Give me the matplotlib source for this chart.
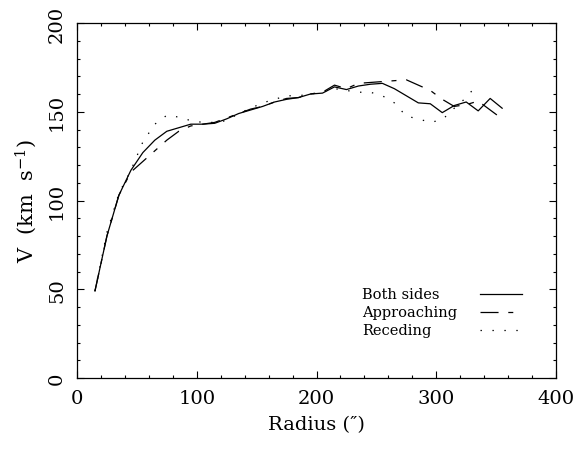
import matplotlib
matplotlib.use("Agg")
import matplotlib.pyplot as plt
from matplotlib.ticker import MultipleLocator

plt.rcParams['font.family'] = ['DejaVu Serif']
plt.rcParams['mathtext.fontset'] = 'dejavuserif'
plt.rcParams['lines.scale_dashes'] = False

# rotation curve, radius in arcsec
radius = [15, 25, 35, 45, 55, 65, 75, 85, 95, 105, 115, 125, 135, 145, 155,
          165, 175, 185, 195, 205, 215, 225, 235, 245, 255, 265, 275, 285,
          295, 305, 315, 325, 335, 345, 355]
v_both = [49, 80, 103, 117, 127, 134, 139, 141, 143, 143, 143.5, 146, 149,
          151, 153, 155.5, 157, 158, 160, 160.5, 164, 162.5, 164.5, 165.5,
          166, 163, 159, 155, 154.5, 149.5, 153.5, 155.5, 150.5, 157.5, 152]
v_appr = [49, 80, 103, 116, 122, 128, 134, 139, 142, 143, 144, 146.5, 149,
          151.5, 153, 155.5, 157.5, 158, 160, 161, 165, 163, 166, 166.5, 167,
          167.5, 168, 165, 162, 157, 153, 154, 156, 151, 146]
radius_rec = radius[:33]
v_rec = [49, 82, 104, 117, 133, 143, 148, 147, 145, 144, 144, 145, 149, 152,
         155, 157, 159, 159, 160, 161, 163, 162, 161, 161, 159, 155, 147.5,
         146, 144, 145.5, 152, 158, 166]

labels = ['Both sides', 'Approaching', 'Receding']
dash_appr = (0, (13, 7, 3.6, 7))
dash_rec = (0, (1.0, 7.6))

fig = plt.figure(figsize=(5.78, 4.52), dpi=100)
ax = fig.add_axes([0.1332, 0.1615, 0.8288, 0.7854])

lw = 0.9
ax.plot(radius, v_both, color='black', lw=lw, ls='-')
ax.plot(radius, v_appr, color='black', lw=lw, ls=dash_appr)
ax.plot(radius_rec, v_rec, color='black', lw=lw, ls=dash_rec)

ax.set_xlim(0, 400)
ax.set_ylim(0, 200)
ax.xaxis.set_major_locator(MultipleLocator(100))
ax.xaxis.set_minor_locator(MultipleLocator(20))
ax.yaxis.set_major_locator(MultipleLocator(50))
ax.yaxis.set_minor_locator(MultipleLocator(10))
ax.tick_params(which='both', direction='in', top=True, right=True, width=0.8)
ax.tick_params(which='major', length=5)
ax.tick_params(which='minor', length=2.5)
ax.tick_params(axis='x', labelsize=14, pad=8)
ax.tick_params(axis='y', labelsize=14, pad=8, labelrotation=90)
for lbl in ax.get_yticklabels():
    lbl.set_va('center')
for s in ax.spines.values():
    s.set_linewidth(0.9)

ax.set_xlabel('Radius (\u2033)', fontsize=14, labelpad=6)
ax.set_ylabel('V  (km  s$^{-1}$)', fontsize=15)
ax.yaxis.set_label_coords(-0.08, 0.5)

# legend drawn as in the original: text left, line sample right
styles = ['-', dash_appr, dash_rec]
rows = [0.237, 0.185, 0.135]
for lab, st, yy in zip(labels, styles, rows):
    ax.text(0.595, yy, lab, transform=ax.transAxes, fontsize=10.5, va='center')
    ax.plot([0.841, 0.929], [yy, yy], transform=ax.transAxes, color='black',
            lw=lw, ls=st)

fig.savefig('out.png', dpi=100)
